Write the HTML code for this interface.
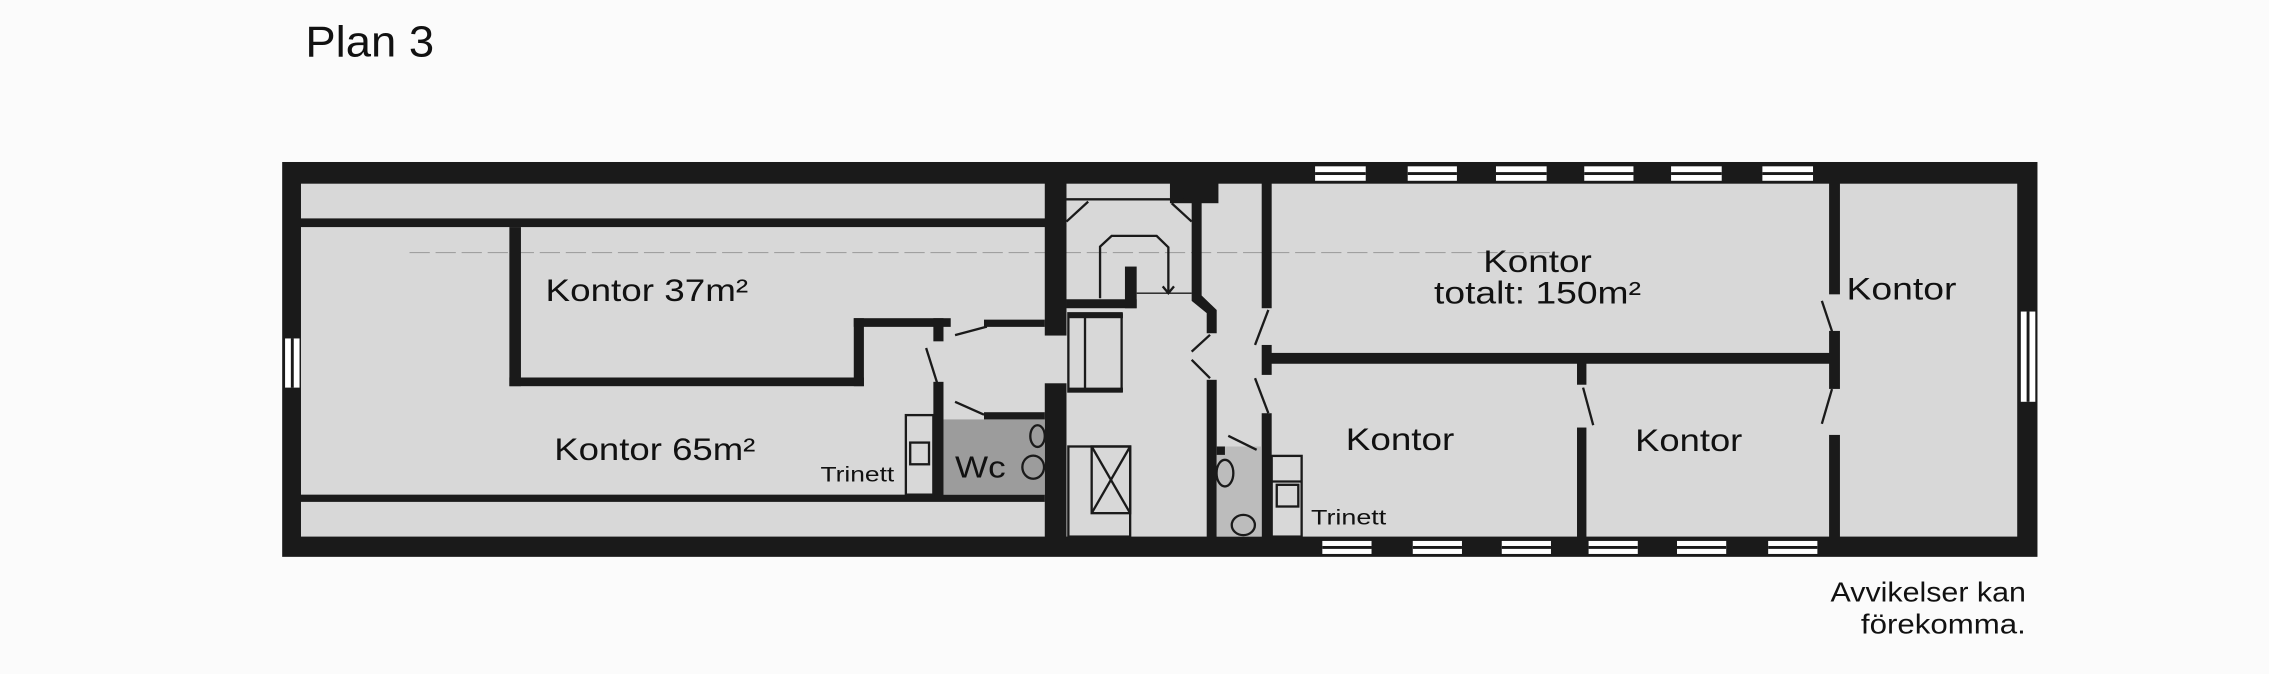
<!DOCTYPE html>
<html><head><meta charset="utf-8"><style>
html,body{margin:0;padding:0;background:#fbfbfb;}
svg{display:block;}
text{font-family:"Liberation Sans",sans-serif;fill:#111;}
</style></head><body>
<svg width="2269" height="674" viewBox="0 0 1568 466" preserveAspectRatio="none" xmlns="http://www.w3.org/2000/svg">
<rect x="0" y="0" width="1568" height="466" fill="#fbfbfb"/>
<text x="211" y="39" font-size="30" textLength="89" lengthAdjust="spacingAndGlyphs">Plan 3</text>
<!-- outer -->
<rect x="195" y="112" width="1213" height="273" fill="#1a1a1a"/>
<rect x="208" y="127" width="1186" height="244" fill="#d8d8d8"/>
<line x1="283" y1="174.6" x2="1072" y2="174.6" stroke="#a0a0a0" stroke-width="0.8" stroke-dasharray="14 4"/>
<g fill="#1a1a1a">
<!-- left section -->
<rect x="207" y="151" width="530" height="6"/>
<rect x="722" y="126" width="15" height="106"/>
<rect x="722" y="265" width="15" height="107"/>
<rect x="352" y="157" width="8" height="110"/>
<rect x="352" y="261" width="245" height="6"/>
<rect x="590" y="220" width="7" height="47"/>
<rect x="590" y="220" width="67" height="6"/>
<rect x="645" y="220" width="7" height="16"/>
<rect x="680" y="221" width="42" height="5"/>
<rect x="645" y="264" width="7" height="80"/>
<rect x="680" y="285" width="42" height="5"/>
<rect x="207" y="342" width="515" height="5"/>
<!-- middle -->
<rect x="808.5" y="126.7" width="33.5" height="13.8"/>
<polygon points="823.5,139 830.4,139 830.4,204.3 840.8,214.3 840.8,230.4 833.9,230.4 833.9,216.5 823.5,208"/>
<rect x="833.9" y="262.6" width="6.9" height="109"/>
<rect x="777.4" y="184.3" width="8.1" height="28.8"/>
<rect x="737" y="206.9" width="48.5" height="6.2"/>
<rect x="738" y="216.6" width="38" height="3.4"/>
<rect x="738" y="268" width="38" height="3.2"/>
<rect x="871.9" y="126" width="6.9" height="87.1"/>
<rect x="871.9" y="238.5" width="6.9" height="20.7"/>
<rect x="878" y="244" width="393" height="7.5"/>
<rect x="871.9" y="285.7" width="6.9" height="86"/>
<!-- right -->
<rect x="1264" y="126" width="7.5" height="77.5"/>
<rect x="1264" y="228.8" width="7.5" height="40.1"/>
<rect x="1264" y="300.7" width="7.5" height="71"/>
<rect x="1089.8" y="251" width="6.5" height="15"/>
<rect x="1089.8" y="295.6" width="6.5" height="76"/>
</g>
<!-- WC areas -->
<rect x="652" y="290" width="70" height="52" fill="#9c9c9c"/>
<rect x="840.8" y="308.7" width="31.1" height="62.3" fill="#bcbcbc"/>
<rect x="840.8" y="308.7" width="5.7" height="5.8" fill="#1a1a1a"/>
<!-- thin lines -->
<g stroke="#1a1a1a" stroke-width="1.6" fill="none">
<line x1="660" y1="231.7" x2="682" y2="225.8"/>
<line x1="640" y1="240.6" x2="647.5" y2="264.4"/>
<line x1="660" y1="277.8" x2="680" y2="286.7"/>
<rect x="626" y="287" width="19" height="55"/>
<rect x="629" y="306" width="13" height="15"/>
<ellipse cx="717" cy="301.5" rx="5" ry="7.5"/>
<ellipse cx="714" cy="323" rx="7.5" ry="8"/>
<line x1="737" y1="137.8" x2="818" y2="137.8"/>
<line x1="737" y1="153.2" x2="752" y2="139.4"/>
<line x1="809.7" y1="140.5" x2="823.5" y2="153.2"/>
<line x1="823.5" y1="243.1" x2="836.2" y2="231.5"/>
<line x1="823.5" y1="248.8" x2="836.2" y2="261.5"/>
<path d="M760.2,206.2 L760.2,170.5 L768.2,163.1 L799.3,163.1 L807.4,171 L807.4,202.7"/>
<path d="M803.5,198 L807.4,202.7 L811.3,198"/>
<line x1="785.5" y1="202.7" x2="823.5" y2="202.7" stroke-width="1"/>
<rect x="738.3" y="216.6" width="36.8" height="54.1"/>
<line x1="749.8" y1="218" x2="749.8" y2="269"/>
<rect x="738.3" y="308.7" width="42.7" height="62.3"/>
<rect x="754.4" y="308.7" width="26.6" height="46.1"/>
<line x1="754.4" y1="308.7" x2="781" y2="354.8"/>
<line x1="781" y1="308.7" x2="754.4" y2="354.8"/>
<ellipse cx="846.5" cy="327.1" rx="5.8" ry="9.2"/>
<ellipse cx="859.2" cy="363" rx="8" ry="7"/>
<line x1="848.8" y1="301.3" x2="868.4" y2="311"/>
<line x1="876.5" y1="214.3" x2="867.3" y2="238.5"/>
<line x1="867.3" y1="261.5" x2="876.5" y2="285.7"/>
<rect x="878.8" y="315.2" width="20.7" height="55.8"/>
<line x1="878.8" y1="332.9" x2="899.5" y2="332.9"/>
<rect x="882.3" y="335.2" width="14.9" height="15"/>
<line x1="1259" y1="208" x2="1266" y2="229"/>
<line x1="1266" y1="269" x2="1259" y2="293"/>
<line x1="1094" y1="268" x2="1101" y2="294"/>
</g>
<!-- windows -->
<g fill="#fff">
<rect x="908.8" y="115" width="35" height="10"/>
<rect x="972.8" y="115" width="34" height="10"/>
<rect x="1033.8" y="115" width="35" height="10"/>
<rect x="1094.8" y="115" width="34" height="10"/>
<rect x="1154.8" y="115" width="35" height="10"/>
<rect x="1217.9" y="115" width="35" height="10"/>
<rect x="913.8" y="374" width="34" height="9"/>
<rect x="976.3" y="374" width="34" height="9"/>
<rect x="1037.8" y="374" width="34" height="9"/>
<rect x="1097.8" y="374" width="34" height="9"/>
<rect x="1158.9" y="374" width="34" height="9"/>
<rect x="1221.9" y="374" width="34" height="9"/>
<rect x="1396.5" y="215.4" width="10" height="62.4"/>
<rect x="197" y="234" width="10" height="34"/>
</g>
<g fill="#1a1a1a">
<rect x="908.8" y="119" width="35" height="2"/>
<rect x="972.8" y="119" width="34" height="2"/>
<rect x="1033.8" y="119" width="35" height="2"/>
<rect x="1094.8" y="119" width="34" height="2"/>
<rect x="1154.8" y="119" width="35" height="2"/>
<rect x="1217.9" y="119" width="35" height="2"/>
<rect x="913.8" y="377.5" width="34" height="2"/>
<rect x="976.3" y="377.5" width="34" height="2"/>
<rect x="1037.8" y="377.5" width="34" height="2"/>
<rect x="1097.8" y="377.5" width="34" height="2"/>
<rect x="1158.9" y="377.5" width="34" height="2"/>
<rect x="1221.9" y="377.5" width="34" height="2"/>
<rect x="1400.5" y="215.4" width="2" height="62.4"/>
<rect x="201" y="234" width="2" height="34"/>
</g>
<!-- labels -->
<text x="377" y="208" font-size="21.5" textLength="140" lengthAdjust="spacingAndGlyphs">Kontor 37m²</text>
<text x="383" y="318" font-size="21.5" textLength="139" lengthAdjust="spacingAndGlyphs">Kontor 65m²</text>
<text x="567" y="333" font-size="15" textLength="51" lengthAdjust="spacingAndGlyphs">Trinett</text>
<text x="660" y="330" font-size="21" textLength="35" lengthAdjust="spacingAndGlyphs">Wc</text>
<text x="1025" y="188" font-size="21.5" textLength="75" lengthAdjust="spacingAndGlyphs">Kontor</text>
<text x="991" y="210" font-size="21.5" textLength="143" lengthAdjust="spacingAndGlyphs">totalt: 150m²</text>
<text x="1276" y="207" font-size="21.5" textLength="76" lengthAdjust="spacingAndGlyphs">Kontor</text>
<text x="930" y="311" font-size="21.5" textLength="75" lengthAdjust="spacingAndGlyphs">Kontor</text>
<text x="1130" y="312" font-size="21.5" textLength="74" lengthAdjust="spacingAndGlyphs">Kontor</text>
<text x="906" y="362.5" font-size="15" textLength="52" lengthAdjust="spacingAndGlyphs">Trinett</text>
<text x="1265" y="416" font-size="19" textLength="135" lengthAdjust="spacingAndGlyphs">Avvikelser kan</text>
<text x="1286" y="438" font-size="19" textLength="114" lengthAdjust="spacingAndGlyphs">förekomma.</text>
</svg>
</body></html>
